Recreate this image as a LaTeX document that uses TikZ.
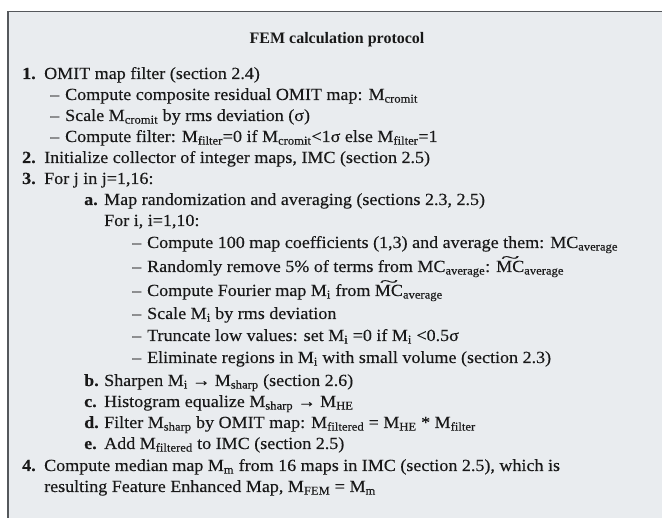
\documentclass[tikz,border=0pt]{standalone}
\usepackage{fontspec}
\usepackage{graphicx}
\setmainfont[FakeStretch=1.06,FakeBold=0.25]{Liberation Serif}
\newfontfamily\titlefont[FakeStretch=1.0]{Liberation Serif}
\definecolor{boxfill}{RGB}{233,236,239}
\definecolor{boxline}{RGB}{85,88,92}
\definecolor{inktext}{RGB}{25,25,25}
\newcommand{\sbs}[1]{\textsubscript{#1}}
\newcommand{\tMC}{{\ooalign{MC\cr\hidewidth\raisebox{0.56em}{\scalebox{1.9}[0.9]{\char"7E}}\hidewidth\cr}}}
\begin{document}
\begin{tikzpicture}[x=1pt,y=-1pt,
  txt/.style={anchor=base west, inner sep=0pt, text=inktext, font=\fontsize{17}{20}\selectfont},
  lbl/.style={anchor=base west, inner sep=0pt, text=inktext, font=\fontsize{17}{20}\selectfont\bfseries},
  ttl/.style={anchor=base, inner sep=0pt, text=inktext, font=\titlefont\fontsize{16}{20}\selectfont\bfseries}]
\path[use as bounding box] (0,0) rectangle (662,518);
\fill[white] (0,0) rectangle (662,518);
\begin{scope}
\clip (0,0) rectangle (662,518);
\draw[fill=boxfill, draw=boxline, line width=1.8pt] (8,11.5) rectangle (700,560);
\end{scope}
\node[ttl] (title) at (337,44) {FEM calculation protocol};
% item 1
\node[lbl] (n1) at (22,79) {1.};
\node[txt] (t1) at (44,79) {OMIT map filter (section 2.4)};
\node[txt] (t1a) at (50,100) {–\hspace{6pt}Compute composite residual OMIT map: M\sbs{cromit}};
\node[txt] (t1b) at (50,121) {–\hspace{6pt}Scale M\sbs{cromit} by rms deviation (σ)};
\node[txt] (t1c) at (50,142) {–\hspace{6pt}Compute filter: M\sbs{filter}=0 if M\sbs{cromit}<1σ else M\sbs{filter}=1};
% item 2
\node[lbl] (n2) at (22,163) {2.};
\node[txt] (t2) at (44,163) {Initialize collector of integer maps, IMC (section 2.5)};
% item 3
\node[lbl] (n3) at (22,184) {3.};
\node[txt] (t3) at (44,184) {For j in j=1,16:};
\node[lbl] (na) at (84,205) {a.};
\node[txt] (ta) at (104,205) {Map randomization and averaging (sections 2.3, 2.5)};
\node[txt] (tfor) at (104,226) {For i, i=1,10:};
\node[txt] (s1) at (132,248) {–\hspace{6pt}Compute 100 map coefficients (1,3) and average them: MC\sbs{average}};
\node[txt] (s2) at (132,272) {–\hspace{6pt}Randomly remove 5\% of terms from MC\sbs{average}: \tMC\sbs{average}};
\node[txt] (s3) at (132,296) {–\hspace{6pt}Compute Fourier map M\sbs{i} from \tMC\sbs{average}};
\node[txt] (s4) at (132,319) {–\hspace{6pt}Scale M\sbs{i} by rms deviation};
\node[txt] (s5) at (132,341) {–\hspace{6pt}Truncate low values: set M\sbs{i} =0 if M\sbs{i} <0.5σ};
\node[txt] (s6) at (132,363) {–\hspace{6pt}Eliminate regions in M\sbs{i} with small volume (section 2.3)};
\node[lbl] (nb) at (84,386) {b.};
\node[txt] (tb) at (104,386) {Sharpen M\sbs{i} → M\sbs{sharp} (section 2.6)};
\node[lbl] (nc) at (84,407) {c.};
\node[txt] (tc) at (104,407) {Histogram equalize M\sbs{sharp} → M\sbs{HE}};
\node[lbl] (nd) at (84,428) {d.};
\node[txt] (td) at (104,428) {Filter M\sbs{sharp} by OMIT map: M\sbs{filtered} = M\sbs{HE} * M\sbs{filter}};
\node[lbl] (ne) at (84,449) {e.};
\node[txt] (te) at (104,449) {Add M\sbs{filtered} to IMC (section 2.5)};
% item 4
\node[lbl] (n4) at (22,471) {4.};
\node[txt] (t4) at (44,471) {Compute median map M\sbs{m} from 16 maps in IMC (section 2.5), which is};
\node[txt] (t4b) at (44,492) {resulting Feature Enhanced Map, M\sbs{FEM} = M\sbs{m}};
\end{tikzpicture}
\end{document}
